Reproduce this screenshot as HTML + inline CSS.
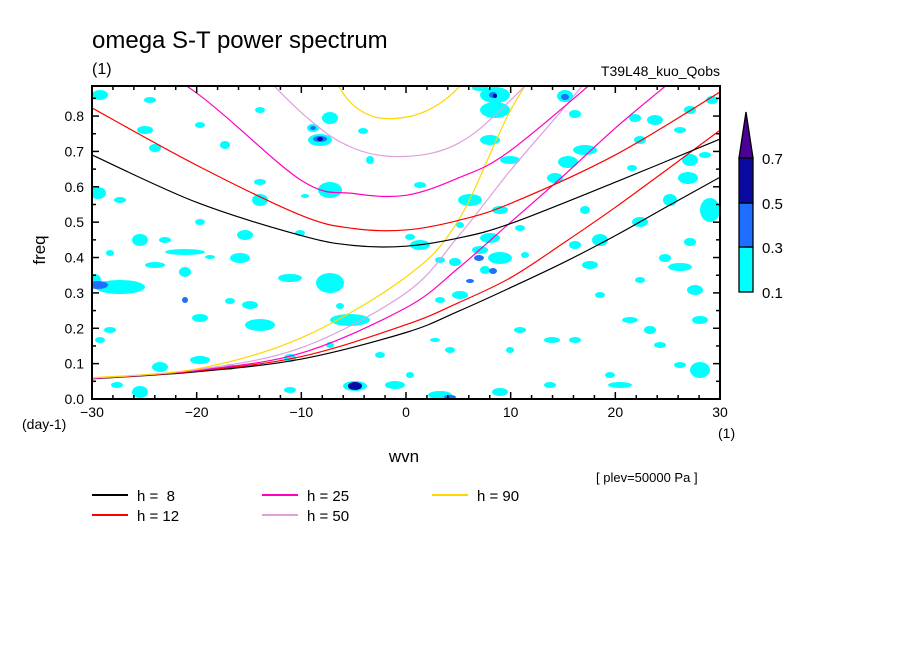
<!DOCTYPE html>
<html><head><meta charset="utf-8"><style>
html,body{margin:0;padding:0;background:#fff;}
svg{display:block;font-family:"Liberation Sans",sans-serif;}
</style></head><body>
<svg id="chart" width="904" height="654" viewBox="0 0 904 654" xmlns="http://www.w3.org/2000/svg">
<rect width="904" height="654" fill="#fff"/>
<defs><clipPath id="plotclip"><rect x="92" y="86" width="628" height="313"/></clipPath></defs>
<g id="blobs" clip-path="url(#plotclip)"></g>
<g id="curves" clip-path="url(#plotclip)"></g>
<g id="axes"></g>
<text x="92" y="48" font-size="24">omega S-T power spectrum</text>
<text x="92" y="74" font-size="16">(1)</text>
<text x="720" y="76" font-size="14" text-anchor="end">T39L48_kuo_Qobs</text>
<text x="45" y="250" font-size="17" text-anchor="middle" transform="rotate(-90 45 250)">freq</text>
<text x="22" y="429" font-size="14">(day-1)</text>
<text x="404" y="462" font-size="17" text-anchor="middle">wvn</text>
<text x="718" y="438" font-size="14">(1)</text>
<text x="596" y="482" font-size="13">[ plev=50000 Pa ]</text>
<g id="colorbar"></g>
<g id="legend"></g>
</svg>
<script>
// ---- data ----
const xTicks = [-30,-20,-10,0,10,20,30];
const yTicks = [0.0,0.1,0.2,0.3,0.4,0.5,0.6,0.7,0.8];
const seriesNames = ["h =  8","h = 12","h = 25","h = 50","h = 90"];
const seriesColors = ["#000000","#ff0000","#ff00c0","#dda0dd","#ffd700"];
// lower (n=0 eastward) branches: wvn / freq
const lowerWvn = [-30,-20,-10,0,5,10,15,20,25,30];
const lower8  = [0.057,0.077,0.113,0.188,0.248,0.315,0.385,0.462,0.545,0.627];
const lower12 = [0.058,0.079,0.120,0.210,0.272,0.343,0.440,0.542,0.650,0.760];
const lower25 = [0.058,0.081,0.130,0.258,0.370,0.500,0.630,0.766,0.890,1.010];
const lower50 = [0.059,0.083,0.145,0.300,0.460,0.647,0.820,1.000,1.180,1.360];
const lower90 = [0.060,0.085,0.173,0.345,0.505,0.817,1.050,1.300,1.550,1.800];
// upper (n=1 inertia-gravity) branches
const upperWvn = [-30,-20,-10,-5,0,5,10,20,30];
const upper8  = [0.690,0.556,0.462,0.434,0.432,0.455,0.496,0.613,0.735];
const upper12 = [0.823,0.661,0.519,0.482,0.478,0.505,0.553,0.690,0.868];
const upper25 = [1.050,0.865,0.618,0.581,0.576,0.625,0.703,0.950,1.200];
const upper50 = [1.300,1.100,0.810,0.709,0.686,0.723,0.845,1.150,1.450];
const upper90 = [1.600,1.350,1.050,0.830,0.797,0.880,1.100,1.400,1.700];
const cbLevels = ["0.1","0.3","0.5","0.7"];
const cbColors = ["#00ffff","#1e6eff","#0a0aa0","#4b0096"];

// contour patch shapes (approximate, cx,cy,rx,ry,level)
const blobs = [[100,95,8,5,0],[150,100,6,3,0],[145,130,8,4,0],[200,125,5,3,0],[225,145,5,4,0],[155,148,6,4,0],[260,110,5,3,0],[313,128,6,4,0],[320,140,12,6,0],[330,118,8,6,0],[363,131,5,3,0],[370,160,4,4,0],[330,190,12,8,0],[260,182,6,3,0],[305,196,4,2,0],[98,193,8,6,0],[120,200,6,3,0],[260,200,8,6,0],[200,222,5,3,0],[140,240,8,6,0],[165,240,6,3,0],[245,235,8,5,0],[300,233,5,3,0],[185,252,20,3,0],[155,265,10,3,0],[110,253,4,3,0],[120,287,25,7,0],[95,280,6,6,0],[185,272,6,5,0],[240,258,10,5,0],[210,257,5,2,0],[290,278,12,4,0],[230,301,5,3,0],[330,283,14,10,0],[250,305,8,4,0],[340,306,4,3,0],[350,320,20,6,0],[260,325,15,6,0],[200,318,8,4,0],[110,330,6,3,0],[100,340,5,3,0],[200,360,10,4,0],[160,367,8,5,0],[230,367,5,3,0],[140,392,8,6,0],[117,385,6,3,0],[290,390,6,3,0],[355,386,12,5,0],[395,385,10,4,0],[290,358,6,4,0],[330,345,4,3,0],[380,355,5,3,0],
[495,95,15,8,0],[480,88,8,3,0],[565,96,8,6,0],[495,110,15,8,0],[490,140,10,5,0],[575,114,6,4,0],[635,118,6,4,0],[655,120,8,5,0],[690,110,6,4,0],[712,100,6,4,0],[680,130,6,3,0],[640,140,6,4,0],[585,150,12,5,0],[568,162,10,6,0],[555,178,8,5,0],[510,160,10,4,0],[470,200,12,6,0],[420,185,6,3,0],[460,225,4,3,0],[500,210,8,4,0],[520,228,5,3,0],[585,210,5,4,0],[632,168,5,3,0],[690,160,8,6,0],[705,155,6,3,0],[688,178,10,6,0],[670,200,7,6,0],[710,210,10,12,0],[600,240,8,6,0],[640,222,8,5,0],[690,242,6,4,0],[490,238,10,5,0],[480,250,8,4,0],[485,270,5,4,0],[455,262,6,4,0],[500,258,12,6,0],[525,255,4,3,0],[575,245,6,4,0],[440,260,5,3,0],[590,265,8,4,0],[640,280,5,3,0],[665,258,6,4,0],[680,267,12,4,0],[695,290,8,5,0],[600,295,5,3,0],[460,295,8,4,0],[440,300,5,3,0],[630,320,8,3,0],[700,320,8,4,0],[520,330,6,3,0],[552,340,8,3,0],[650,330,6,4,0],[660,345,6,3,0],[575,340,6,3,0],[680,365,6,3,0],[700,370,10,8,0],[450,350,5,3,0],[435,340,5,2,0],[510,350,4,3,0],[610,375,5,3,0],[620,385,12,3,0],[550,385,6,3,0],[500,392,8,4,0],[410,375,4,3,0],[440,395,12,4,0],[420,245,10,5,0],[410,237,5,3,0],
[320,139,7,3,1],[313,128,3,2,1],[565,97,4,3,1],[493,95,4,3,1],[355,386,7,4,2],[479,258,5,3,1],[493,271,4,3,1],[470,281,4,2,1],[185,300,3,3,1],[98,285,10,4,1],[495,96,2,2,2],[450,397,6,2,1],[320,139,3,2,2]];

// ---- scales ----
const X0=92,X1=720,Y0=399,Y1=86, FMAX=0.885;
const sx = s => X0 + (s+30)/60*(X1-X0);
const sy = f => Y0 - f/FMAX*(Y0-Y1);
const NS="http://www.w3.org/2000/svg";
function mk(tag, attrs, parent){const e=document.createElementNS(NS,tag);for(const k in attrs)e.setAttribute(k,attrs[k]);parent.appendChild(e);return e;}

// blobs
const gb=document.getElementById('blobs');
blobs.forEach(b=>{
  const e=mk('ellipse',{cx:b[0],cy:b[1],rx:b[2],ry:b[3],fill:cbColors[b[4]]},gb);
  
  
});

// curves
function pathFrom(ws, fs){
  const p=ws.map((w,i)=>[sx(w),sy(fs[i])]);
  let d=`M${p[0][0]},${p[0][1]}`;
  for(let i=0;i<p.length-1;i++){
    const p0=p[Math.max(i-1,0)],p1=p[i],p2=p[i+1],p3=p[Math.min(i+2,p.length-1)];
    const c1=[p1[0]+(p2[0]-p0[0])/6,p1[1]+(p2[1]-p0[1])/6];
    const c2=[p2[0]-(p3[0]-p1[0])/6,p2[1]-(p3[1]-p1[1])/6];
    d+=` C${c1[0]},${c1[1]} ${c2[0]},${c2[1]} ${p2[0]},${p2[1]}`;
  }
  return d;
}
const gc=document.getElementById('curves');
const lowers=[lower8,lower12,lower25,lower50,lower90];
const uppers=[upper8,upper12,upper25,upper50,upper90];
const hn=["8","12","25","50","90"];
lowers.forEach((arr,i)=>{
  const e=mk('path',{d:pathFrom(lowerWvn,arr),fill:'none',stroke:seriesColors[i],'stroke-width':1.2},gc);
  
  
});
uppers.forEach((arr,i)=>{
  const e=mk('path',{d:pathFrom(upperWvn,arr),fill:'none',stroke:seriesColors[i],'stroke-width':1.2},gc);
  
  
});

// axes
const ga=document.getElementById('axes');
const frame=mk('rect',{x:X0,y:Y1,width:X1-X0,height:Y0-Y1,fill:'none',stroke:'#000','stroke-width':2},ga);


for(let s=-30;s<=30;s+=2){
  const L=(s%10===0)?7:4;
  mk('line',{x1:sx(s),x2:sx(s),y1:Y0,y2:Y0-L,stroke:'#000','stroke-width':1.5},ga);
  mk('line',{x1:sx(s),x2:sx(s),y1:Y1,y2:Y1+L,stroke:'#000','stroke-width':1.5},ga);
}
for(let k=0;k<=17;k++){
  const f=k*0.05, L=(k%2===0)?7:4;
  mk('line',{x1:X0,x2:X0+L,y1:sy(f),y2:sy(f),stroke:'#000','stroke-width':1.5},ga);
  mk('line',{x1:X1,x2:X1-L,y1:sy(f),y2:sy(f),stroke:'#000','stroke-width':1.5},ga);
}
xTicks.forEach(t=>{
  const e=mk('text',{x:sx(t),y:417,'font-size':14,'text-anchor':'middle'},ga);
  e.textContent=(t<0?'\u2212'+(-t):String(t));
  
  
});
yTicks.forEach(t=>{
  const e=mk('text',{x:84,y:sy(t)+5,'font-size':14,'text-anchor':'end'},ga);
  e.textContent=t.toFixed(1);
  
  
});

// colorbar (bottom to top: cyan, blue, dark blue, purple triangle)
const gcb=document.getElementById('colorbar');
const boxTop=[247,203,158];
const boxBot=[292,247,203];
for(let i=0;i<3;i++){
  const r=mk('rect',{x:739,y:boxTop[i],width:14,height:boxBot[i]-boxTop[i],fill:cbColors[i],stroke:'#000','stroke-width':1.3},gcb);
  
  
}
const tri=mk('polygon',{points:'739,158 753,158 746,112',fill:cbColors[3],stroke:'#000','stroke-width':1.3},gcb);


const cbY=[292,247,203,158];
cbLevels.forEach((l,i)=>{
  const e=mk('text',{x:762,y:cbY[i]+6,'font-size':15},gcb);
  e.textContent=l;
  
  
});

// legend
const gl=document.getElementById('legend');
const legPos=[[92,495],[92,515],[262,495],[262,515],[432,495]];
seriesNames.forEach((n,i)=>{
  const [lx,ly]=legPos[i];
  const ln=mk('line',{x1:lx,x2:lx+36,y1:ly,y2:ly,stroke:seriesColors[i],'stroke-width':2},gl);
  
  
  const t=mk('text',{x:lx+45,y:ly+6,'font-size':15},gl);
  t.setAttribute('style','white-space:pre');
  t.textContent=n;
  
  
});
</script>
</body></html>
